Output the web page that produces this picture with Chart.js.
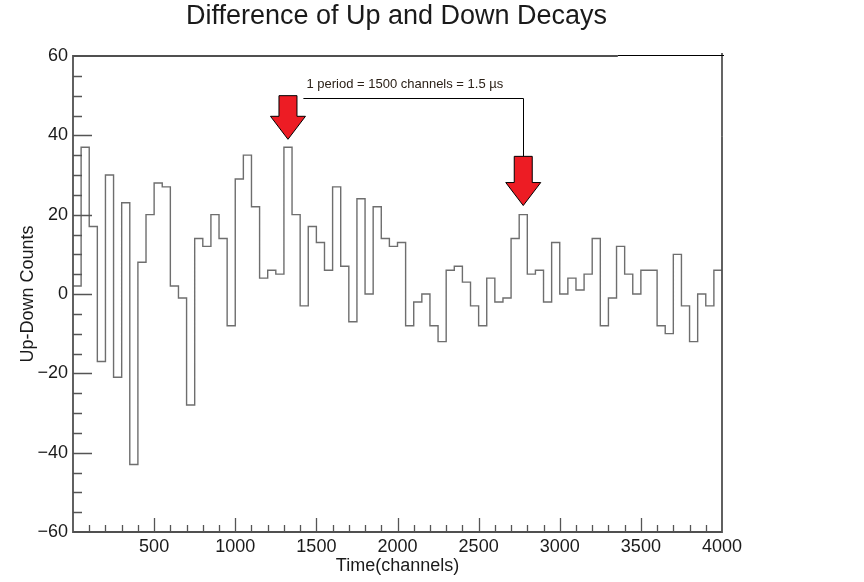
<!DOCTYPE html>
<html>
<head>
<meta charset="utf-8">
<script src="https://cdn.jsdelivr.net/npm/chart.js@4.4.0/dist/chart.umd.min.js"></script>
<style>
  html, body { margin: 0; padding: 0; background: #fff; }
</style>
</head>
<body>
<canvas id="decays" width="864" height="582"></canvas>
<script>
// histogram: 80 bins of 50 channels, first bin starts at channel 0
const binStart = 0;
const binWidth = 50;
const upDownCounts = [
   2, 37, 17, -17, 30, -21, 23, -43,  8, 20,
  28, 27,  2,  -1, -28, 14, 12, 20, 14, -8,
  29, 35, 22,   4,  6,  5, 37, 20, -3, 17,
  13,  6, 27,   7, -7, 24,  0, 22, 14, 12,
  13, -8, -2,   0, -8, -12, 6,  7,  3, -3,
  -8,  4, -2,  -1, 14, 20,  5,  6, -2, 13,
   0,  4,  1,   5, 14, -8, -1, 12,  5,  0,
   6,  6, -8, -10, 10, -3, -12, 0, -3,  6
];

const xRange = [0, 4000];
const yRange = [-60, 60];
const xMajorStep = 500, xMinorStep = 100;
const yMajorStep = 20, yMinorStep = 5;

const titleText = "Difference of Up and Down Decays";
const xTitle = "Time(channels)";
const yTitle = "Up-Down Counts";

// annotation (data coordinates)
const arrowChannels = [1325, 2775];
const arrowTops = [50, 34.7];
const arrowTips = [39, 22.3];
const periodText = "1 period = 1500 channels = 1.5 \u00b5s";
const bracketFrom = 1420;
const bracketLevel = 49.5;

const FONT = "'Liberation Sans', Arial, sans-serif";

// build step points: left edge of each bin, plus closing point at the last edge
const histPoints = upDownCounts.map((v, i) => ({ x: binStart + i * binWidth, y: v }));
histPoints.push({ x: binStart + upDownCounts.length * binWidth, y: upDownCounts[upDownCounts.length - 1] });

const rootFrame = {
  id: 'rootFrame',
  afterDatasetsDraw(chart) {
    const ctx = chart.ctx;
    const a = chart.chartArea;
    const xs = chart.scales.x, ys = chart.scales.y;
    ctx.save();
    ctx.strokeStyle = '#555';
    ctx.lineWidth = 1.3;
    ctx.beginPath();
    // x ticks, drawn inward
    for (let v = xRange[0] + xMinorStep; v < xRange[1]; v += xMinorStep) {
      const px = Math.round(xs.getPixelForValue(v)) + 0.5;
      const len = (v % xMajorStep === 0) ? 14 : 7;
      ctx.moveTo(px, a.bottom);
      ctx.lineTo(px, a.bottom - len);
    }
    // y ticks
    for (let v = yRange[0] + yMinorStep; v < yRange[1]; v += yMinorStep) {
      const py = Math.round(ys.getPixelForValue(v)) + 0.5;
      const len = (v % yMajorStep === 0) ? 19 : 9;
      ctx.moveTo(a.left, py);
      ctx.lineTo(a.left + len, py);
    }
    ctx.stroke();

    // frame: left, bottom, part of top, part of right in grey
    ctx.lineWidth = 1.8;
    ctx.strokeStyle = '#505050';
    const topCut = xs.getPixelForValue(3358);
    const rightCut = ys.getPixelForValue(39.8);
    ctx.beginPath();
    ctx.moveTo(topCut, a.top);
    ctx.lineTo(a.left, a.top);
    ctx.lineTo(a.left, a.bottom);
    ctx.lineTo(a.right, a.bottom);
    ctx.lineTo(a.right, rightCut);
    ctx.stroke();
    ctx.strokeStyle = '#000';
    ctx.lineWidth = 1.2;
    ctx.beginPath();
    ctx.moveTo(topCut, a.top - 0.5);
    ctx.lineTo(a.right + 2, a.top - 0.5);
    ctx.moveTo(a.right, a.top - 3);
    ctx.lineTo(a.right, rightCut);
    ctx.stroke();
    ctx.restore();
  },
  afterDraw(chart) {
    const ctx = chart.ctx;
    const a = chart.chartArea;
    const xs = chart.scales.x, ys = chart.scales.y;
    ctx.save();
    ctx.fillStyle = '#1a1a1a';
    ctx.textAlign = 'center';
    ctx.textBaseline = 'middle';
    ctx.font = '27px ' + FONT;
    ctx.fillText(titleText, 396.5, 17);
    ctx.font = '18px ' + FONT;
    ctx.fillText(xTitle, (a.left + a.right) / 2, 566);
    ctx.save();
    ctx.translate(28, (a.top + a.bottom) / 2);
    ctx.rotate(-Math.PI / 2);
    ctx.fillText(yTitle, 0, 0);
    ctx.restore();

    // period bracket
    const bx0 = xs.getPixelForValue(bracketFrom);
    const bx1 = Math.round(xs.getPixelForValue(arrowChannels[1])) + 0.5;
    const by = Math.round(ys.getPixelForValue(bracketLevel)) + 0.5;
    ctx.strokeStyle = '#000';
    ctx.lineWidth = 1;
    ctx.beginPath();
    ctx.moveTo(bx0, by);
    ctx.lineTo(bx1, by);
    ctx.lineTo(bx1, ys.getPixelForValue(arrowTops[1]));
    ctx.stroke();
    ctx.fillStyle = '#2b2118';
    ctx.textAlign = 'left';
    ctx.font = '13px ' + FONT;
    ctx.fillText(periodText, bx0 + 3, by - 14);

    // red arrows
    arrowChannels.forEach((ch, i) => {
      const cx = xs.getPixelForValue(ch);
      const top = ys.getPixelForValue(arrowTops[i]);
      const tip = ys.getPixelForValue(arrowTips[i]);
      const headH = 23, shaftW = 9, headW = 17.5;
      const neck = tip - headH;
      ctx.beginPath();
      ctx.moveTo(cx - shaftW, top);
      ctx.lineTo(cx + shaftW, top);
      ctx.lineTo(cx + shaftW, neck);
      ctx.lineTo(cx + headW, neck);
      ctx.lineTo(cx, tip);
      ctx.lineTo(cx - headW, neck);
      ctx.lineTo(cx - shaftW, neck);
      ctx.closePath();
      ctx.fillStyle = '#ed1c24';
      ctx.fill();
      ctx.strokeStyle = '#000';
      ctx.lineWidth = 1;
      ctx.stroke();
    });
    ctx.restore();
  }
};

new Chart(document.getElementById('decays'), {
  type: 'line',
  data: {
    datasets: [{
      label: 'Up - Down',
      data: histPoints,
      stepped: 'before',
      borderColor: '#6e6e6e',
      borderWidth: 1.4,
      pointRadius: 0,
      fill: false
    }]
  },
  options: {
    responsive: false,
    animation: false,
    layout: { padding: { top: 56, right: 142, bottom: 0, left: 0 } },
    plugins: { legend: { display: false }, tooltip: { enabled: false } },
    scales: {
      x: {
        type: 'linear',
        min: xRange[0], max: xRange[1],
        afterFit(scale) { scale.height = 50; },
        grid: { display: false, drawTicks: false },
        border: { display: false },
        ticks: {
          stepSize: xMajorStep,
          padding: 4,
          maxRotation: 0,
          color: '#1a1a1a',
          font: { family: FONT, size: 18 },
          callback: v => (v === 0 ? null : String(v))
        }
      },
      y: {
        min: yRange[0], max: yRange[1],
        afterFit(scale) { scale.width = 73; },
        grid: { display: false, drawTicks: false },
        border: { display: false },
        ticks: {
          stepSize: yMajorStep,
          padding: 5,
          color: '#1a1a1a',
          font: { family: FONT, size: 18 },
          callback: v => String(v).replace('-', '\u2212')
        }
      }
    }
  },
  plugins: [rootFrame]
});
</script>
</body>
</html>
